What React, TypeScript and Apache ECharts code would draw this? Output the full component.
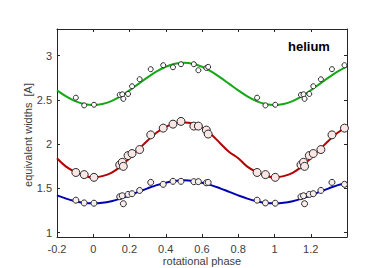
import React, { useEffect, useRef } from "react";
import * as echarts from "echarts";

// Observations (rotational phase within one cycle) and measured equivalent widths
const obsPhase = [0.004, 0.146, 0.160, 0.166, 0.192, 0.214, 0.256, 0.317, 0.386, 0.440, 0.484, 0.555, 0.580, 0.624, 0.634, 0.904, 0.950];
const obsGreen = [2.444, 2.556, 2.562, 2.511, 2.566, 2.653, 2.732, 2.846, 2.891, 2.868, 2.902, 2.902, 2.834, 2.860, 2.872, 2.524, 2.437];
const obsRed = [1.624, 1.765, 1.794, 1.748, 1.870, 1.893, 1.938, 2.104, 2.180, 2.225, 2.256, 2.203, 2.203, 2.158, 2.113, 1.679, 1.655];
const obsBlue = [1.332, 1.405, 1.416, 1.326, 1.431, 1.439, 1.476, 1.567, 1.545, 1.579, 1.579, 1.575, 1.575, 1.562, 1.567, 1.366, 1.335];

// Fitted curves
const curvePhase = [-0.2, -0.15, -0.1, -0.05, 0, 0.05, 0.1, 0.15, 0.2, 0.25, 0.3, 0.35, 0.4, 0.45, 0.5, 0.55, 0.6, 0.65, 0.7, 0.75, 0.8, 0.85, 0.9, 0.95, 1.0, 1.05, 1.1, 1.15, 1.2, 1.25, 1.3, 1.35, 1.4];
const curveGreen = [2.606, 2.539, 2.486, 2.452, 2.44, 2.452, 2.486, 2.539, 2.606, 2.68, 2.754, 2.821, 2.874, 2.908, 2.92, 2.908, 2.874, 2.821, 2.754, 2.68, 2.606, 2.539, 2.486, 2.452, 2.44, 2.452, 2.486, 2.539, 2.606, 2.68, 2.754, 2.821, 2.874];
const curveRed = [1.84, 1.745, 1.685, 1.642, 1.622, 1.638, 1.675, 1.745, 1.84, 1.94, 2.04, 2.13, 2.195, 2.232, 2.244, 2.232, 2.19, 2.11, 2.01, 1.91, 1.84, 1.745, 1.685, 1.642, 1.622, 1.638, 1.675, 1.745, 1.84, 1.94, 2.04, 2.13, 2.195];
const curveBlue = [1.42, 1.384, 1.355, 1.336, 1.33, 1.336, 1.355, 1.384, 1.42, 1.46, 1.50, 1.536, 1.564, 1.584, 1.59, 1.584, 1.564, 1.536, 1.50, 1.46, 1.42, 1.384, 1.355, 1.336, 1.33, 1.336, 1.355, 1.384, 1.42, 1.46, 1.50, 1.536, 1.564];

const xTicks = [-0.2, 0, 0.2, 0.4, 0.6, 0.8, 1, 1.2];
const yTicks = [1, 1.5, 2, 2.5, 3];

const X_MIN = -0.2;
const X_MAX = 1.4;

function fold(values: number[]) {
  const out: number[][] = [];
  obsPhase.forEach((p, i) => {
    for (const k of [-1, 0, 1]) {
      const q = p + k;
      if (q >= X_MIN && q <= X_MAX) out.push([q, values[i]]);
    }
  });
  return out;
}

const FONT = "Liberation Sans, Arial, Helvetica, sans-serif";
const AXIS_COLOR = "#262626";
const LABEL_COLOR = "#404040";

export default function App() {
  const ref = useRef<HTMLDivElement>(null);
  useEffect(() => {
    if (!ref.current) return;
    const chart = echarts.init(ref.current, undefined, { renderer: "svg" });
    const axisLine = { show: true, onZero: false, lineStyle: { color: AXIS_COLOR, width: 1 } };
    const line = (data: number[], color: string) => ({
      type: "line",
      data: curvePhase.map((p, i) => [p, data[i]]),
      showSymbol: false,
      smooth: 0.4,
      lineStyle: { color, width: 2 },
      z: 2,
    });
    const scatter = (vals: number[], size: number, fill: string) => ({
      type: "scatter",
      data: fold(vals),
      symbol: "circle",
      symbolSize: size,
      itemStyle: { color: fill, borderColor: "#2a2a2a", borderWidth: 1, opacity: 1 },
      z: 3,
    });
    chart.setOption({
      animation: false,
      grid: { left: 49, right: 35, top: 21, bottom: 39 },
      xAxis: [
        {
          type: "value",
          min: X_MIN,
          max: X_MAX,
          position: "bottom",
          axisLine,
          axisTick: { show: true, inside: true, length: 3, lineStyle: { color: AXIS_COLOR }, customValues: xTicks },
          axisLabel: { color: LABEL_COLOR, fontSize: 11, fontFamily: FONT, margin: 6, customValues: xTicks },
          splitLine: { show: false },
        },
        {
          type: "value",
          min: X_MIN,
          max: X_MAX,
          position: "top",
          axisLine,
          axisTick: { show: true, inside: true, length: 3, lineStyle: { color: AXIS_COLOR }, customValues: xTicks },
          axisLabel: { show: false },
          splitLine: { show: false },
        },
      ],
      yAxis: [
        {
          type: "value",
          min: 0.95,
          max: 3.3,
          position: "left",
          axisLine,
          axisTick: { show: true, inside: true, length: 3, lineStyle: { color: AXIS_COLOR }, customValues: yTicks },
          axisLabel: { color: LABEL_COLOR, fontSize: 11, fontFamily: FONT, margin: 5, customValues: yTicks },
          splitLine: { show: false },
        },
        {
          type: "value",
          min: 0.95,
          max: 3.3,
          position: "right",
          axisLine,
          axisTick: { show: true, inside: true, length: 3, lineStyle: { color: AXIS_COLOR }, customValues: yTicks },
          axisLabel: { show: false },
          splitLine: { show: false },
        },
      ],
      graphic: [
        {
          type: "text",
          left: 280,
          top: 32,
          style: { text: "helium", fontSize: 13, fontWeight: "bold", fontFamily: FONT, fill: "#000" },
        },
        {
          type: "text",
          x: 194,
          y: 253,
          style: { text: "rotational phase", fontSize: 11, fontFamily: FONT, fill: LABEL_COLOR, align: "center", verticalAlign: "middle" },
        },
        {
          type: "text",
          x: 20,
          y: 127,
          rotation: Math.PI / 2,
          style: { text: "equivalent widths  [A]", fontSize: 11, fontFamily: FONT, fill: LABEL_COLOR, align: "center", verticalAlign: "middle" },
        },
      ],
      series: [
        line(curveGreen, "#14a814"),
        line(curveRed, "#b40000"),
        line(curveBlue, "#0000b4"),
        scatter(obsGreen, 5, "#ffffff"),
        scatter(obsRed, 8, "#fbe6e6"),
        scatter(obsBlue, 6, "#f8eeee"),
      ],
    });
    return () => chart.dispose();
  }, []);
  return <div ref={ref} style={{ width: 374, height: 268 }} />;
}
